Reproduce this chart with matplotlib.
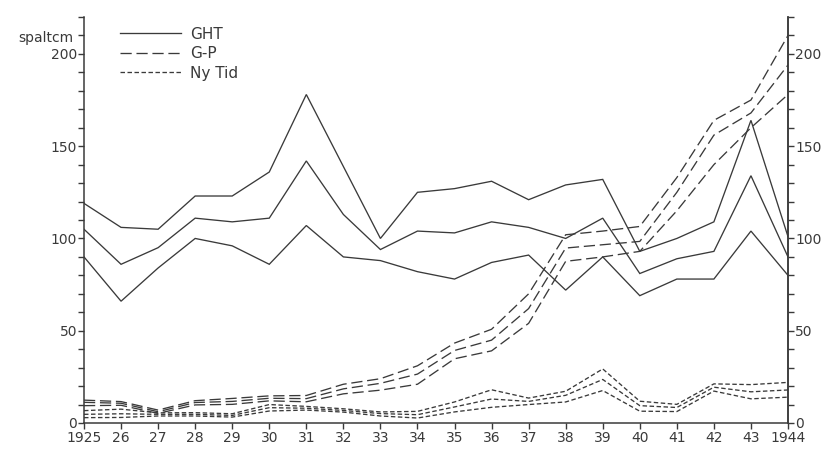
import matplotlib
matplotlib.use("Agg")
import matplotlib.pyplot as plt
from matplotlib.ticker import MultipleLocator, FixedLocator
from matplotlib.lines import Line2D

# Column centimetres per year, three newspapers, three curves each
years = list(range(1925, 1945))
year_labels = ["1925"] + [str(y)[2:] for y in years[1:-1]] + ["1944"]

ght_high = [119, 106, 105, 123, 123, 136, 178, 139, 100, 125, 127, 131, 121, 129, 132, 93, 100, 109, 164, 101]
ght_mid = [105, 86, 95, 111, 109, 111, 142, 113, 94, 104, 103, 109, 106, 100, 111, 81, 89, 93, 134, 90]
ght_low = [90, 66, 84, 100, 96, 86, 107, 90, 88, 82, 78, 87, 91, 72, 90, 69, 78, 78, 104, 80]

gp_high = [12.4, 11.6, 7.0, 12.1, 13.3, 14.7, 14.9, 21.0, 24.0, 31.0, 43.3, 50.8, 70, 102, 104, 106.5, 133, 164, 175, 210]
gp_mid = [11.2, 10.7, 6.1, 11.1, 11.7, 13.4, 13.2, 18.5, 21.5, 26.5, 39.3, 44.9, 62, 94.8, 96.6, 98.4, 125, 156, 168, 194]
gp_low = [9.4, 9.6, 5.2, 9.8, 10.1, 12.0, 11.5, 15.8, 17.8, 21.0, 34.8, 39.1, 54, 87.6, 90, 93, 115, 140, 160, 178]

nytid_high = [6.7, 7.5, 5.5, 5.6, 5.0, 10.0, 9.0, 7.7, 6.0, 6.3, 11.4, 18.0, 13.5, 17.2, 29.3, 11.8, 10.1, 21.2, 20.8, 22.0]
nytid_mid = [4.7, 5.0, 4.7, 4.7, 4.1, 8.3, 8.0, 6.8, 5.1, 4.5, 8.7, 13.0, 11.7, 15.0, 23.6, 9.4, 8.4, 19.4, 16.9, 17.9]
nytid_low = [2.9, 3.0, 3.8, 3.8, 3.2, 6.5, 7.0, 5.9, 3.8, 2.7, 6.0, 8.5, 10.0, 11.4, 17.6, 6.4, 6.2, 17.3, 13.1, 14.0]

ink = "#3a3a3a"
lw = 0.95
gp_dash = (8.5, 3.6)
nt_dash = (3.4, 1.9)

fig = plt.figure(figsize=(8.21, 4.49), dpi=100)
ax = fig.add_axes([84 / 821, 26 / 449, (788 - 84) / 821, 406 / 449])

for series in (ght_high, ght_mid, ght_low):
    ax.plot(years, series, color=ink, lw=lw, solid_joinstyle="miter")
for series in (gp_high, gp_mid, gp_low):
    ax.plot(years, series, color=ink, lw=lw, linestyle=(0, gp_dash))
for series in (nytid_high, nytid_mid, nytid_low):
    ax.plot(years, series, color=ink, lw=lw, linestyle=(0, nt_dash))

ax.set_xlim(1925, 1944)
ax.set_ylim(0, 220)

ax.spines["top"].set_visible(False)
for side in ("left", "right", "bottom"):
    ax.spines[side].set_color(ink)
    ax.spines[side].set_linewidth(1.1)

ax.xaxis.set_major_locator(FixedLocator(years))
ax.set_xticklabels(year_labels)
ax.tick_params(axis="x", direction="out", length=4, width=1, colors=ink, labelsize=10, pad=2)

ax.yaxis.set_major_locator(FixedLocator([0, 50, 100, 150, 200]))
ax.yaxis.set_minor_locator(MultipleLocator(10))
ax.tick_params(axis="y", which="both", direction="out", length=4, width=1, colors=ink, labelsize=10, pad=1)

ax2 = ax.twinx()
ax2.set_ylim(0, 220)
ax2.spines["top"].set_visible(False)
ax2.spines["left"].set_visible(False)
ax2.spines["bottom"].set_visible(False)
ax2.spines["right"].set_color(ink)
ax2.spines["right"].set_linewidth(1.1)
ax2.yaxis.set_major_locator(FixedLocator([0, 50, 100, 150, 200]))
ax2.yaxis.set_minor_locator(MultipleLocator(10))
ax2.tick_params(axis="y", which="both", direction="out", length=4, width=1, colors=ink, labelsize=10, pad=1)

fig.text(73 / 821, 1 - 38 / 449, "spaltcm", ha="right", va="center", fontsize=10, color=ink)

handles = [
    Line2D([], [], color=ink, lw=lw),
    Line2D([], [], color=ink, lw=lw, linestyle=(0, gp_dash)),
    Line2D([], [], color=ink, lw=lw, linestyle=(0, nt_dash)),
]
fig.legend(handles, ["GHT", "G-P", "Ny Tid"], loc="upper left",
           bbox_to_anchor=(112 / 821, 1 - 19 / 449), frameon=False,
           handlelength=4.0, handletextpad=0.6, labelspacing=0.3,
           borderpad=0, fontsize=11, labelcolor=ink)

fig.savefig("out.png", dpi=100, facecolor="white")
